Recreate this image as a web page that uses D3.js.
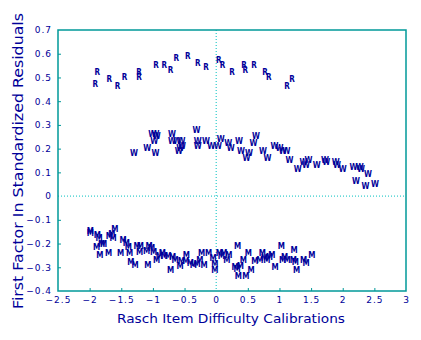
<!DOCTYPE html>
<html>
<head>
<meta charset="utf-8">
<script src="https://cdn.jsdelivr.net/npm/d3@7"></script>
<style>
body{margin:0;background:#fff;}
text{font-family:"DejaVu Sans",sans-serif;fill:#000099;}
</style>
</head>
<body>
<svg id="chart" width="421" height="340"></svg>
<script>
// tick values
var xTicks = [-2.5,-2,-1.5,-1,-0.5,0,0.5,1,1.5,2,2.5,3];
var yTicks = [0.7,0.6,0.5,0.4,0.3,0.2,0.1,0,-0.1,-0.2,-0.3,-0.4];

// R items [difficulty, loading]
var rPoints = [
  [-1.91,0.47],[-1.88,0.52],[-1.69,0.49],[-1.56,0.46],[-1.45,0.50],[-1.22,0.52],
  [-1.22,0.50],[-0.95,0.55],[-0.82,0.55],[-0.72,0.53],[-0.63,0.58],[-0.45,0.59],
  [-0.29,0.56],[-0.16,0.54],[0.04,0.57],[0.10,0.55],[0.25,0.52],[0.44,0.55],
  [0.46,0.53],[0.60,0.55],[0.77,0.52],[0.83,0.50],[1.12,0.46],[1.20,0.49]
];

// W items
var wPoints = [
  [-1.30,0.18],[-1.09,0.20],[-0.96,0.18],[-1.01,0.26],[-0.94,0.25],[-0.98,0.23],
  [-0.96,0.26],[-0.70,0.26],[-0.70,0.23],[-0.62,0.23],[-0.55,0.23],[-0.57,0.20],
  [-0.54,0.21],[-0.59,0.19],[-0.31,0.275],[-0.29,0.23],[-0.29,0.21],[-0.16,0.23],
  [-0.08,0.21],[0.03,0.21],[0.07,0.24],[0.19,0.22],[0.23,0.20],[0.36,0.23],
  [0.39,0.19],[0.52,0.18],[0.48,0.16],[0.63,0.25],[0.59,0.22],[0.74,0.19],
  [0.81,0.16],[0.92,0.21],[1.00,0.20],[1.05,0.19],[1.11,0.19],[1.16,0.15],
  [1.29,0.11],[1.38,0.14],[1.42,0.13],[1.46,0.15],[1.59,0.13],[1.72,0.15],
  [1.74,0.14],[1.89,0.14],[1.91,0.13],[2.00,0.11],[2.17,0.12],[2.27,0.12],
  [2.29,0.11],[2.40,0.09],[2.21,0.06],[2.36,0.04],[2.51,0.05]
];

// M items
var mPoints = [
  [-1.99,-0.157],[-1.99,-0.15],[-1.88,-0.164],[-1.85,-0.18],[-1.89,-0.216],[-1.81,-0.206],
  [-1.78,-0.206],[-1.84,-0.249],[-1.70,-0.242],[-1.69,-0.171],[-1.65,-0.16],[-1.60,-0.139],
  [-1.63,-0.18],[-1.51,-0.242],[-1.47,-0.188],[-1.42,-0.20],[-1.39,-0.216],[-1.37,-0.242],
  [-1.35,-0.281],[-1.28,-0.291],[-1.25,-0.214],[-1.20,-0.214],[-1.21,-0.239],[-1.10,-0.235],
  [-1.08,-0.291],[-1.06,-0.211],[-1.02,-0.22],[-0.99,-0.239],[-0.94,-0.273],[-0.90,-0.256],
  [-0.85,-0.242],[-0.82,-0.256],[-0.76,-0.253],[-0.72,-0.312],[-0.69,-0.258],[-0.65,-0.273],
  [-0.57,-0.295],[-0.55,-0.277],[-0.47,-0.249],[-0.48,-0.277],[-0.41,-0.284],[-0.36,-0.291],
  [-0.30,-0.29],[-0.26,-0.27],[-0.23,-0.244],[-0.19,-0.291],[-0.12,-0.242],[-0.05,-0.263],
  [-0.02,-0.312],[-0.02,-0.29],[0.05,-0.242],[0.08,-0.256],[0.12,-0.242],[0.17,-0.27],
  [0.20,-0.25],[0.34,-0.211],[0.30,-0.30],[0.33,-0.31],[0.35,-0.337],[0.38,-0.298],
  [0.43,-0.27],[0.47,-0.337],[0.51,-0.242],[0.55,-0.315],[0.61,-0.277],[0.69,-0.27],
  [0.73,-0.242],[0.76,-0.262],[0.80,-0.27],[0.84,-0.26],[0.88,-0.249],[0.93,-0.30],
  [1.03,-0.211],[1.05,-0.27],[1.08,-0.26],[1.12,-0.27],[1.23,-0.23],[1.25,-0.281],
  [1.27,-0.312],[1.22,-0.27],[1.38,-0.27],[1.42,-0.284],[1.51,-0.249]
];

var svg = d3.select('#chart');
// plot box (note: "top" is taken by window.top)
var boxL = 58, boxR = 406, boxT = 30, boxB = 291;
var frame = '#009999', dotted = '#00c0c0', ink = '#000099';

var x = d3.scaleLinear().domain([-2.5,3]).range([boxL,boxR]);
var y = d3.scaleLinear().domain([-0.4,0.7]).range([boxB,boxT]);

// reference lines at 0
svg.append('line')
  .attr('x1',x(0)).attr('x2',x(0)).attr('y1',boxT).attr('y2',boxB)
  .attr('stroke',dotted).attr('stroke-width',1).attr('stroke-dasharray','1,2');
svg.append('line')
  .attr('x1',boxL).attr('x2',boxR).attr('y1',y(0)).attr('y2',y(0))
  .attr('stroke',dotted).attr('stroke-width',1).attr('stroke-dasharray','1,2');

// frame
svg.append('rect')
  .attr('x',boxL).attr('y',boxT).attr('width',boxR-boxL).attr('height',boxB-boxT)
  .attr('fill','none').attr('stroke',frame).attr('stroke-width',1.5);

// axes with inner ticks
var fmt = function(d){ return d3.format('')(d).replace('-','\u2212'); };
var xAxis = svg.append('g').attr('transform','translate(0,'+boxB+')')
  .call(d3.axisBottom(x).tickValues(xTicks).tickSizeInner(-3).tickSizeOuter(0)
    .tickPadding(6).tickFormat(fmt));
var yAxis = svg.append('g').attr('transform','translate('+boxL+',0)')
  .call(d3.axisLeft(y).tickValues(yTicks).tickSizeInner(-3).tickSizeOuter(0)
    .tickPadding(6).tickFormat(fmt));
[xAxis,yAxis].forEach(function(a){
  a.select('.domain').remove();
  a.selectAll('line').attr('stroke',frame);
  a.selectAll('text').attr('fill',ink).style('font-size','9px')
    .style('letter-spacing','1px').style('font-family','"DejaVu Sans",sans-serif');
});
xAxis.selectAll('.tick').filter(function(d){ return d===0 || d===-2.5 || d===3; }).select('line').remove();
yAxis.selectAll('.tick').filter(function(d){ return d===0 || d===0.7 || d===-0.4; }).select('line').remove();

// markers: small condensed letters
function drawLetters(data, letter){
  svg.append('g').selectAll('text').data(data).enter().append('text')
    .attr('x',function(d){ return x(d[0]); })
    .attr('y',function(d){ return y(d[1]); })
    .attr('text-anchor','middle').attr('dominant-baseline','central')
    .style('font-family','"DejaVu Sans Condensed","DejaVu Sans",sans-serif')
    .style('font-size','8px').style('font-weight','bold')
    .text(letter);
}
drawLetters(rPoints,'R');
drawLetters(wPoints,'W');
drawLetters(mPoints,'M');

// axis titles
svg.append('text')
  .attr('x',231).attr('y',323).attr('text-anchor','middle')
  .attr('textLength',228).attr('lengthAdjust','spacingAndGlyphs')
  .style('font-size','13px')
  .text('Rasch Item Difficulty Calibrations');
svg.append('text')
  .attr('transform','translate(23,161) rotate(-90)')
  .attr('text-anchor','middle')
  .attr('textLength',296).attr('lengthAdjust','spacingAndGlyphs')
  .style('font-size','14px')
  .text('First Factor In Standardized Residuals');
</script>
</body>
</html>
